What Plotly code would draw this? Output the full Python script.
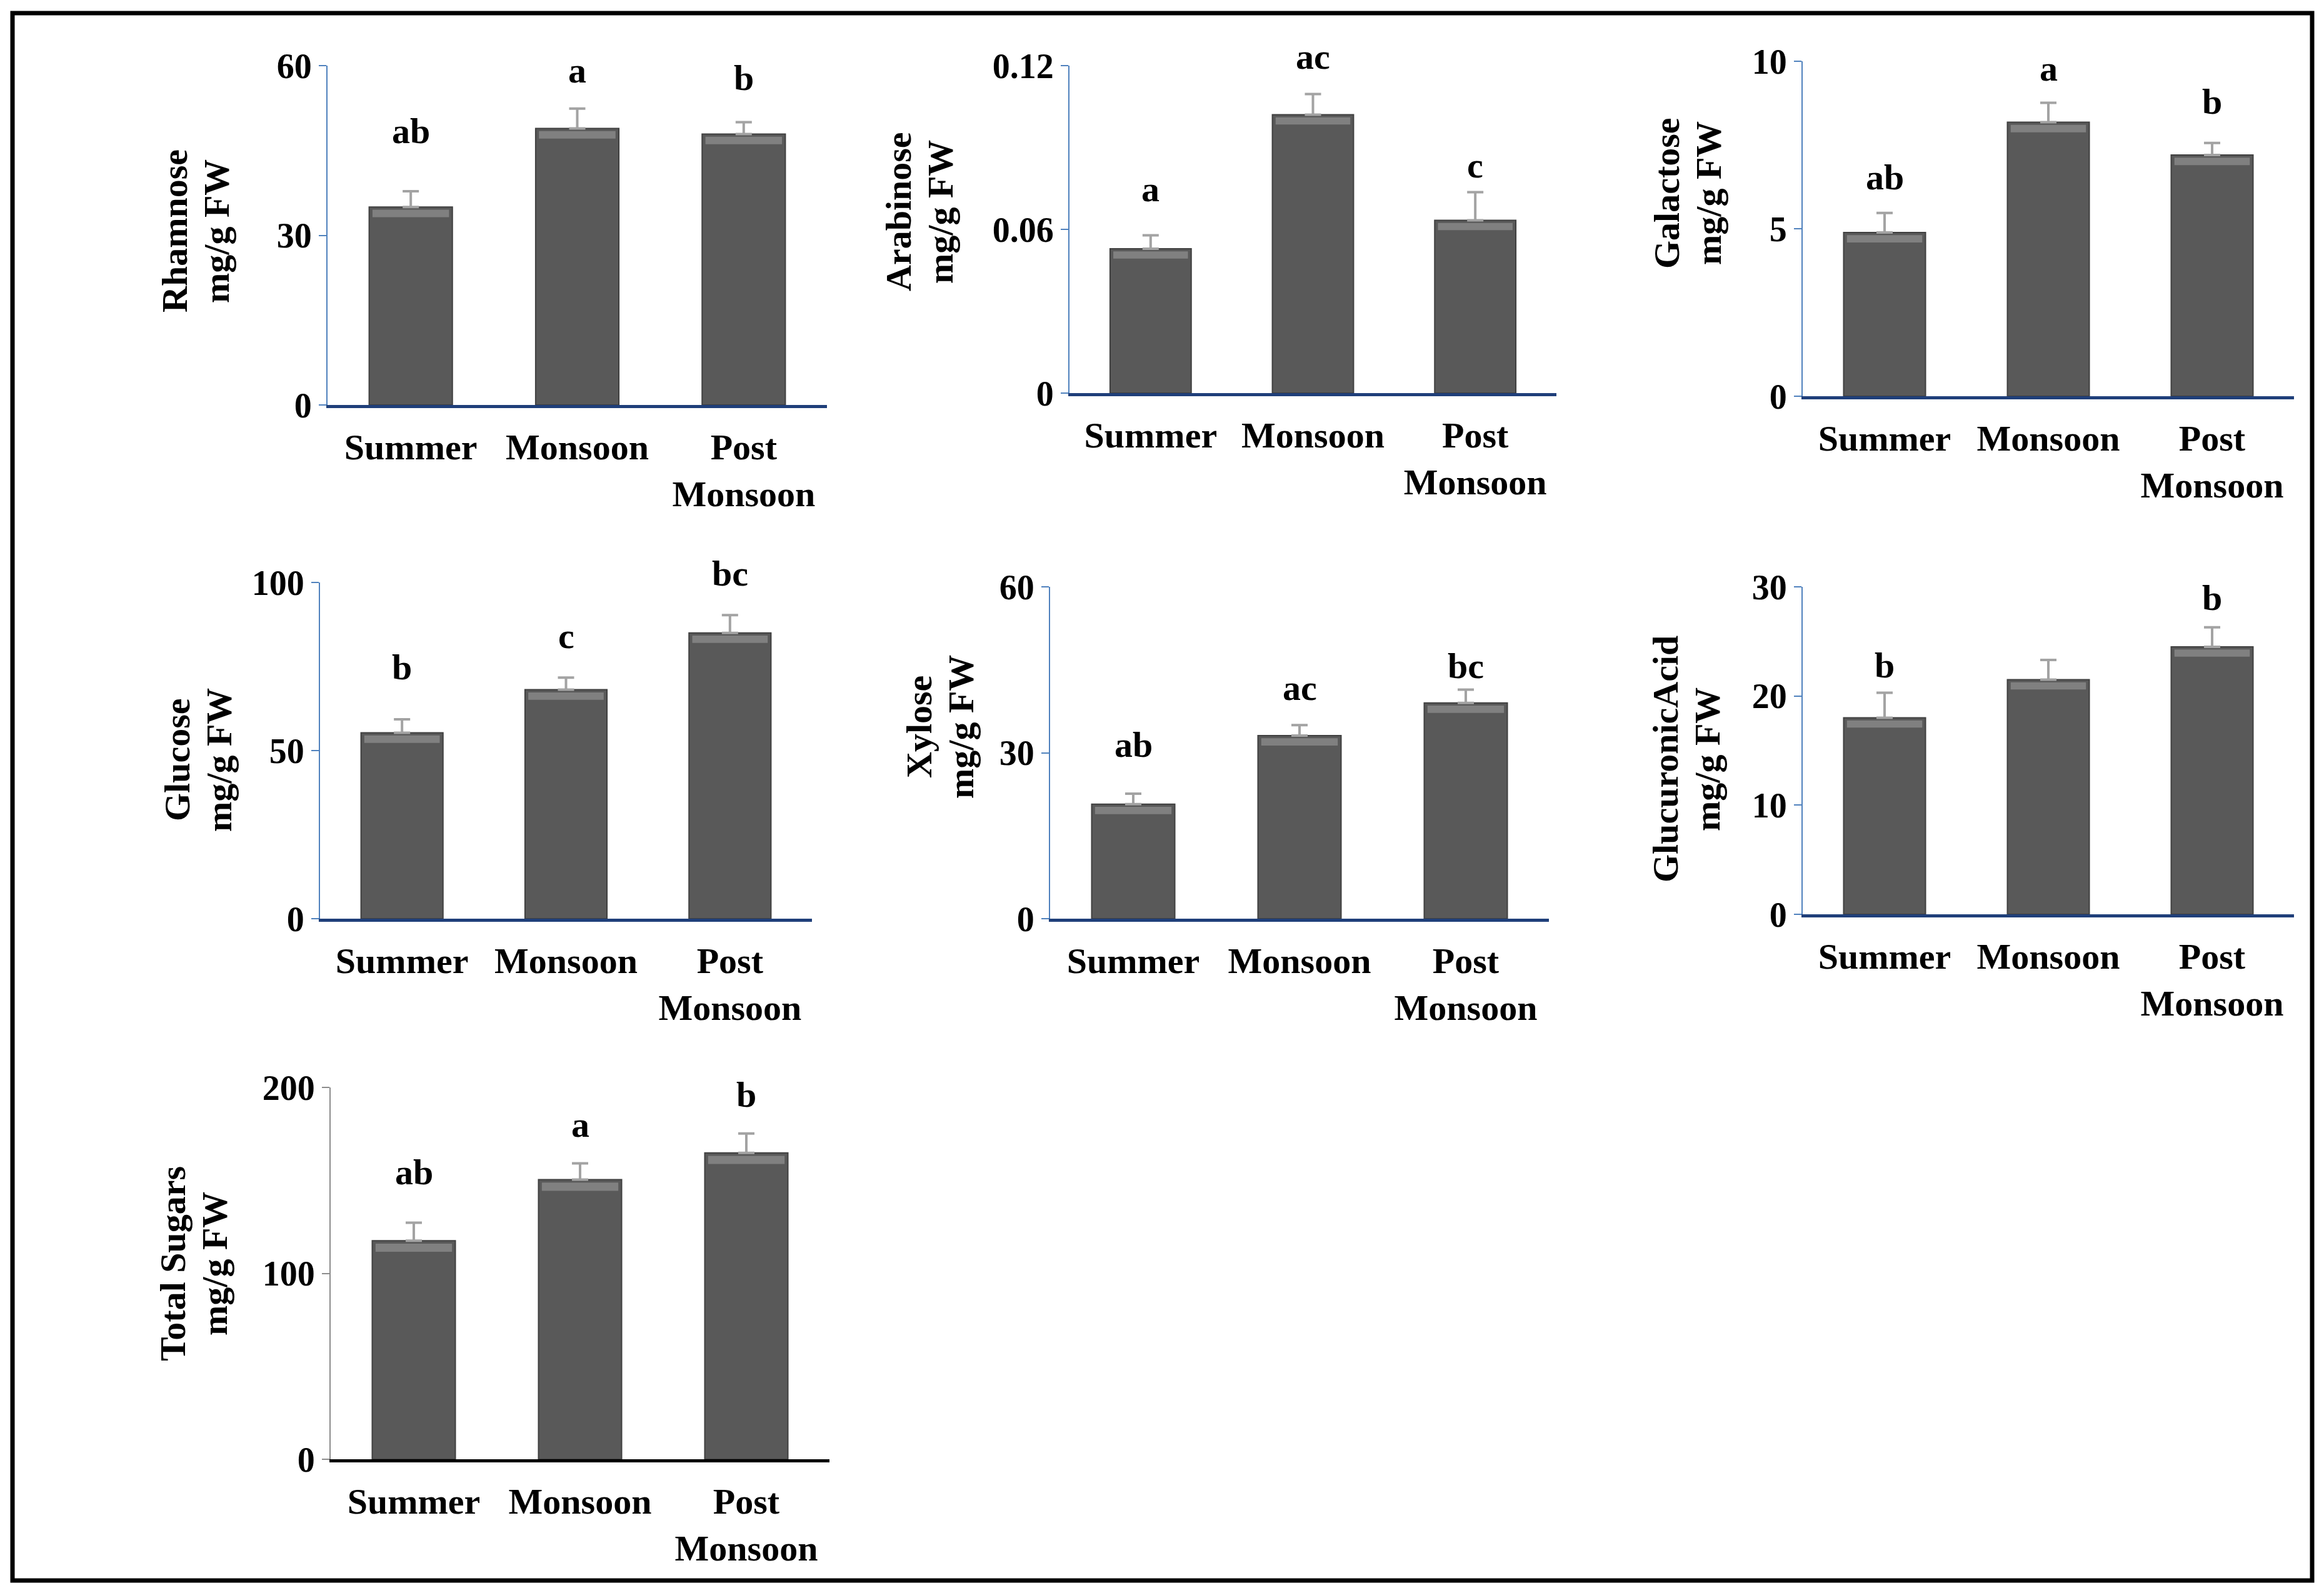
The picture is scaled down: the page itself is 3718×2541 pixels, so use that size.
"""Seasonal variation of cell-wall sugars (7 bar panels with error bars)"""
import plotly.graph_objects as go

# data
seasons = ["Summer", "Monsoon", "Post<br>Monsoon"]

titles = ["Rhamnose", "Arabinose", "Galactose", "Glucose", "Xylose",
          "GlucuronicAcid", "Total Sugars"]
unit = "mg/g FW"

rhamnose = [35.0, 48.9, 47.9]
rhamnose_err = [2.8, 3.5, 2.1]
arabinose = [0.0529, 0.102, 0.0633]
arabinose_err = [0.0049, 0.0076, 0.0103]
galactose = [4.89, 8.18, 7.20]
galactose_err = [0.58, 0.58, 0.36]
glucose = [55.3, 68.1, 85.0]
glucose_err = [4.0, 3.6, 5.3]
xylose = [20.7, 33.1, 39.0]
xylose_err = [1.9, 1.9, 2.4]
glucuronic = [18.0, 21.5, 24.5]
glucuronic_err = [2.3, 1.8, 1.8]
total = [117.6, 150.4, 164.8]
total_err = [9.6, 8.8, 10.4]

rhamnose_letters = ["ab", "a", "b"]
arabinose_letters = ["a", "ac", "c"]
galactose_letters = ["ab", "a", "b"]
glucose_letters = ["b", "c", "bc"]
xylose_letters = ["ab", "ac", "bc"]
glucuronic_letters = ["b", "", "b"]
total_letters = ["ab", "a", "b"]

values = [rhamnose, arabinose, galactose, glucose, xylose, glucuronic, total]
errors = [rhamnose_err, arabinose_err, galactose_err, glucose_err,
          xylose_err, glucuronic_err, total_err]
letters = [rhamnose_letters, arabinose_letters, galactose_letters,
           glucose_letters, xylose_letters, glucuronic_letters, total_letters]

y_max = [60, 0.12, 10, 100, 60, 30, 200]
y_step = [30, 0.06, 5, 50, 30, 10, 100]

# layout, in pixels of the 3718x2541 page (the html body adds an 8 px margin)
PAGE_W, PAGE_H, BODY = 3718, 2541, 8
W, H = PAGE_W - 2 * BODY, PAGE_H - 2 * BODY


def px(x):
    return (x - BODY) / W


def py(y):
    return 1 - (y - BODY) / H


boxes = [(524, 1323, 105, 648), (1711, 2490, 105, 629), (2884, 3670, 98, 634),
         (512, 1299, 932, 1470), (1680, 2478, 939, 1470), (2884, 3670, 939, 1463),
         (529, 1327, 1740, 2335)]
# x of the first title line and y centre of the title
title_pos = [(279, 370), (1437, 339), (2666, 309), (283, 1216), (1470, 1163),
             (2664, 1215), (276, 2022)]
# height of the letters as a fraction of each panel's y range
letter_y = [[0.807, 0.987, 0.965], [0.623, 1.028, 0.696], [0.653, 0.978, 0.88],
            [0.748, 0.841, 1.027], [0.525, 0.695, 0.762], [0.76, 0, 0.967],
            [0.772, 0.90, 0.98]]

FONT = "Liberation Serif"
fig = go.Figure()
layout = dict(width=W, height=H, template="none",
              margin=dict(l=0, r=0, t=0, b=0, pad=0, autoexpand=False),
              paper_bgcolor="white", plot_bgcolor="white", showlegend=False,
              bargap=0.5, barmode="overlay")
annotations = []

for i in range(7):
    n = "" if i == 0 else str(i + 1)
    x0, x1, yt, yb = boxes[i]
    yline = "#4F81BD" if i < 6 else "#8C8C8C"
    xline = "#1F3F7A" if i < 6 else "#000000"
    top = y_max[i]
    # bar body
    fig.add_trace(go.Bar(
        x=seasons, y=values[i], xaxis="x" + n, yaxis="y" + n,
        marker=dict(color="#595959", line=dict(color="#404040", width=2)),
    ))
    # light bevel just under the top edge of each bar
    fig.add_trace(go.Bar(
        x=seasons, y=[0.022 * top] * 3, base=[v - 0.03 * top for v in values[i]],
        width=0.46, xaxis="x" + n, yaxis="y" + n,
        marker=dict(color="#808080", line=dict(width=0)),
    ))
    # error bars (upper half only)
    fig.add_trace(go.Scatter(
        x=seasons, y=values[i], mode="markers", xaxis="x" + n, yaxis="y" + n,
        marker=dict(size=1, color="rgba(0,0,0,0)"),
        error_y=dict(type="data", array=errors[i], symmetric=False,
                     arrayminus=[0, 0, 0], color="#a3a3a3",
                     thickness=4, width=13),
    ))
    layout["xaxis" + n] = dict(
        domain=[px(x0), px(x1)], anchor="y" + n, range=[-0.5, 2.5],
        showline=True, linecolor=xline, linewidth=5, ticks="",
        tickfont=dict(family=FONT, size=58, color="black", weight="bold"),
        ticklabelstandoff=12, showgrid=False, zeroline=False,
        automargin=False, fixedrange=True,
    )
    layout["yaxis" + n] = dict(
        domain=[py(yb), py(yt)], anchor="x" + n, range=[0, top],
        dtick=y_step[i], showline=True, linecolor=yline, linewidth=2,
        ticks="outside", ticklen=12, tickwidth=2, tickcolor=yline,
        tickfont=dict(family=FONT, size=56, color="black", weight="bold"),
        showgrid=False, zeroline=False, automargin=False, fixedrange=True,
    )
    tx, ty = title_pos[i]
    for k, line in enumerate([titles[i], unit]):
        annotations.append(dict(
            x=px(tx + 67 * k), y=py(ty), xref="paper", yref="paper",
            xanchor="center", yanchor="middle",
            text=line, textangle=-90, showarrow=False,
            font=dict(family=FONT, size=58, color="black", weight="bold"),
        ))
    for j in range(3):
        if letters[i][j]:
            annotations.append(dict(
                x=seasons[j], y=letter_y[i][j], xref="x" + n,
                yref="y" + n + " domain",
                text=letters[i][j], showarrow=False, yanchor="middle",
                font=dict(family=FONT, size=58, color="black", weight="bold"),
            ))

layout["annotations"] = annotations
layout["shapes"] = [dict(type="rect", xref="paper", yref="paper",
                         x0=px(20), x1=px(3699), y0=py(2529), y1=py(21),
                         line=dict(color="black", width=7))]
fig.update_layout(layout)
fig.write_html("out.html")
